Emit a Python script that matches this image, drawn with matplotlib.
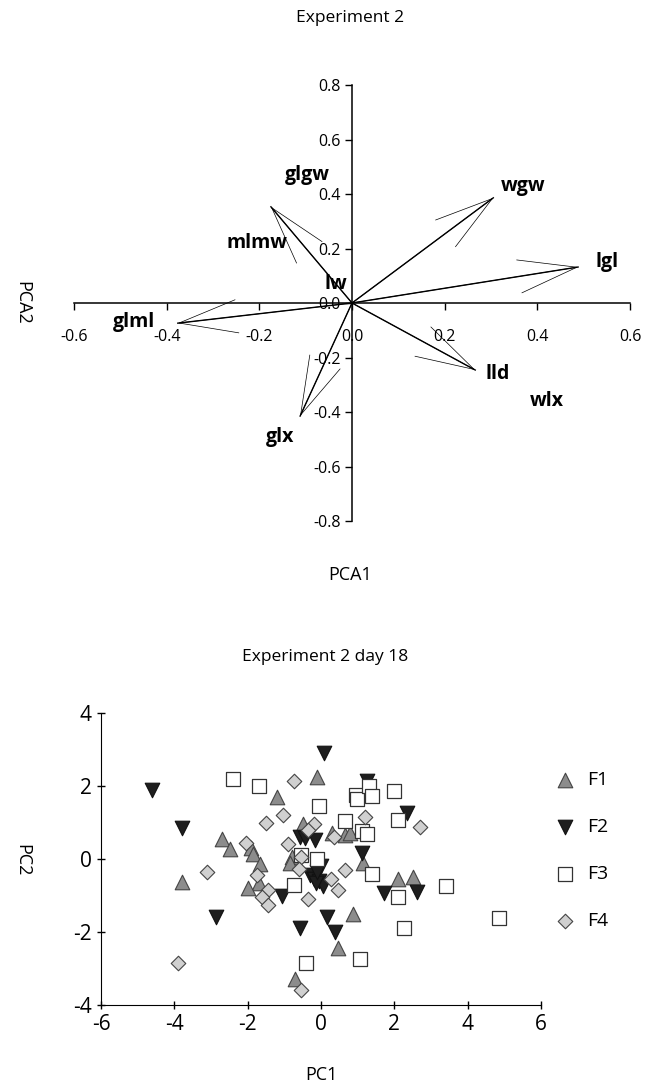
import matplotlib
matplotlib.use('Agg')
import matplotlib.pyplot as plt

plt.rcParams['font.family'] = ['Open Sans', 'DejaVu Sans']
plt.rcParams['axes.unicode_minus'] = False

# --- PCA loadings (Experiment 2) ---
arrow_names = ['wgw', 'lgl', 'lld', 'glx', 'glml', 'glgw']
arrow_pc1 = [0.305, 0.488, 0.266, -0.112, -0.376, -0.175]
arrow_pc2 = [0.386, 0.132, -0.246, -0.415, -0.074, 0.353]

label_names = ['glgw', 'mlmw', 'lw', 'glml', 'wgw', 'lgl', 'lld', 'wlx', 'glx']
label_x = [-0.097, -0.205, -0.035, -0.47, 0.37, 0.55, 0.315, 0.42, -0.155]
label_y = [0.47, 0.22, 0.07, -0.07, 0.43, 0.15, -0.26, -0.36, -0.49]

# --- PC scores (Experiment 2 day 18) ---
f1_x = [-3.8, -2.7, -2.48, -1.9, -1.85, -1.66, -1.7, -2.0, -1.2, -0.1, -0.8,
        -0.5, 0.3, 0.65, 0.8, 1.15, 0.88, 0.45, -0.7, 2.1, 2.5, -0.85]
f1_y = [-0.62, 0.55, 0.27, 0.3, 0.15, -0.15, -0.65, -0.8, 1.7, 2.25, 0.05,
        0.95, 0.7, 0.65, 0.72, -0.1, -1.5, -2.45, -3.3, -0.55, -0.5, -0.1]

f2_x = [-4.6, -3.8, -2.87, -1.06, -0.57, 0.16, 0.38, 1.72, 2.62, 2.35, 0.08,
        1.25, 1.12, -0.57, -0.44, -0.16, -0.3, -0.2, -0.05, 0.05, -0.15, 0.0, -0.1]
f2_y = [1.9, 0.85, -1.6, -1.0, -1.9, -1.6, -2.0, -0.93, -0.9, 1.25, 2.9,
        2.15, 0.16, 0.6, 0.57, 0.52, -0.45, -0.55, -0.6, -0.75, -0.65, -0.2, -0.35]

f3_x = [-2.4, -1.7, -0.05, -0.55, -0.1, -0.75, 0.65, 0.96, 0.98, 1.3, 1.38,
        2.0, 2.1, 1.12, 1.25, 1.38, 2.1, 3.4, 4.85, 2.25, -0.4, 1.05]
f3_y = [2.2, 2.0, 1.45, 0.1, 0.0, -0.7, 1.05, 1.75, 1.65, 2.0, 1.73,
        1.87, 1.07, 0.77, 0.68, -0.4, -1.05, -0.75, -1.62, -1.9, -2.85, -2.75]

f4_x = [-3.9, -3.1, -2.05, -1.5, -1.05, -0.75, -0.9, -1.75, -1.45, -1.6, -1.45,
        -0.35, -0.55, -0.6, -0.2, -0.35, 0.35, 0.27, 0.47, 0.65, 1.2, 2.7, -0.55]
f4_y = [-2.85, -0.35, 0.45, 1.0, 1.2, 2.15, 0.4, -0.45, -0.85, -1.05, -1.25,
        -1.1, 0.05, -0.27, 0.95, 0.8, 0.6, -0.55, -0.85, -0.3, 1.15, 0.87, -3.6]

fig = plt.figure(figsize=(6.48, 10.92), dpi=100)

# ---------------- top: loadings biplot ----------------
ax1 = fig.add_axes([74 / 648, 1 - 521 / 1092, 556 / 648, 436 / 1092])
ax1.set_xlim(-0.6, 0.6)
ax1.set_ylim(-0.8, 0.8)
ax1.spines['left'].set_position(('data', 0))
ax1.spines['bottom'].set_position(('data', 0))
ax1.spines['top'].set_visible(False)
ax1.spines['right'].set_visible(False)
ax1.set_xticks([-0.6, -0.4, -0.2, 0.0, 0.2, 0.4, 0.6])
ax1.set_yticks([-0.8, -0.6, -0.4, -0.2, 0.0, 0.2, 0.4, 0.6, 0.8])
ax1.set_xticklabels(['%.1f' % v for v in ax1.get_xticks()])
ax1.set_yticklabels(['%.1f' % v for v in ax1.get_yticks()])
ax1.tick_params(direction='out', length=5, width=1, labelsize=11.5, pad=14)
ax1.tick_params(axis='y', pad=3)
for sp in ('left', 'bottom'):
    ax1.spines[sp].set_linewidth(1.1)

for name, x, y in zip(arrow_names, arrow_pc1, arrow_pc2):
    ax1.plot([0, x], [0, y], color='black', lw=1.0)
    ax1.annotate('', xy=(x, y), xytext=(0, 0),
                 arrowprops=dict(arrowstyle='->,head_length=4.2,head_width=1.2',
                                 lw=0.5, color='black', shrinkA=0, shrinkB=0,
                                 mutation_scale=10))

for name, x, y in zip(label_names, label_x, label_y):
    ax1.text(x, y, name, fontsize=14, fontweight='bold', ha='center', va='center')

fig.text(350 / 648, 1 - 18 / 1092, 'Experiment 2', ha='center', va='center', fontsize=12.5)
fig.text(22 / 648, 1 - 303 / 1092, 'PCA2', ha='center', va='center', fontsize=13, rotation=270)
fig.text(350 / 648, 1 - 575 / 1092, 'PCA1', ha='center', va='center', fontsize=13)

# ---------------- bottom: score plot ----------------
ax2 = fig.add_axes([101 / 648, 1 - 1005 / 1092, 440 / 648, 292 / 1092])
ax2.scatter(f1_x, f1_y, marker='^', s=110, facecolor='#8c8c8c', edgecolor='#444444', lw=0.8, label='F1', zorder=3)
ax2.scatter(f2_x, f2_y, marker='v', s=110, facecolor='#1e1e1e', edgecolor='#111111', lw=0.8, label='F2', zorder=3)
ax2.scatter(f3_x, f3_y, marker='s', s=90, facecolor='white', edgecolor='#333333', lw=0.9, label='F3', zorder=3)
ax2.scatter(f4_x, f4_y, marker='D', s=55, facecolor='#d0d0d0', edgecolor='#444444', lw=0.8, label='F4', zorder=3)
ax2.set_xlim(-6, 6)
ax2.set_ylim(-4, 4)
ax2.set_xticks(range(-6, 7, 2))
ax2.set_yticks(range(-4, 5, 2))
ax2.spines['top'].set_visible(False)
ax2.spines['right'].set_visible(False)
ax2.tick_params(direction='inout', length=6, width=1, labelsize=15)
ax2.legend(loc='upper left', bbox_to_anchor=(538 / 648, 1 - 763 / 1092),
           bbox_transform=fig.transFigure, frameon=False, fontsize=14,
           labelspacing=1.5, handletextpad=0.15, borderaxespad=0)

fig.text(325 / 648, 1 - 657 / 1092, 'Experiment 2 day 18', ha='center', va='center', fontsize=12.5)
fig.text(22 / 648, 1 - 860 / 1092, 'PC2', ha='center', va='center', fontsize=13, rotation=270)
fig.text(321 / 648, 1 - 1075 / 1092, 'PC1', ha='center', va='center', fontsize=13)

fig.savefig('out.png', dpi=100)
